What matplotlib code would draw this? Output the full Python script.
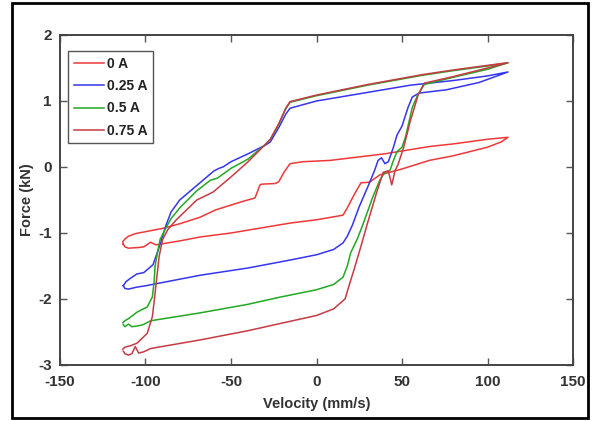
import numpy as np
import matplotlib
matplotlib.use('Agg')
import matplotlib.pyplot as plt
from matplotlib.patches import Rectangle

# hysteresis loops: lower branch left->right, upper branch right->left
vel_0a = [-113, -112, -110, -104, -101, -97, -94, -80, -68, -50, -15.5, 0, 15.5, 18, 22, 26, 31, 37, 50, 66, 80,
          100, 108, 112,
          100, 80, 66, 40, 8, -8, -15.5, -19, -22, -24, -32, -33, -36, -43, -59, -68, -80, -90, -100, -106, -110,
          -112, -113.3, -113]
force_0a = [-1.17, -1.21, -1.23, -1.22, -1.21, -1.14, -1.18, -1.12, -1.06, -1.0, -0.85, -0.80, -0.73, -0.62, -0.42,
            -0.24, -0.23, -0.12, -0.03, 0.1, 0.17, 0.3, 0.38, 0.45,
            0.42, 0.35, 0.31, 0.2, 0.1, 0.08, 0.05, -0.08, -0.22, -0.25, -0.26, -0.27, -0.47, -0.52, -0.65, -0.76,
            -0.86, -0.93, -0.98, -1.01, -1.05, -1.09, -1.13, -1.17]

vel_025a = [-113, -112, -110, -105, -100, -68, -40, -15.5, 0, 10, 15.5, 18, 21, 25, 30, 34, 36, 38, 40, 42, 45, 47,
            50, 53.5, 56, 60, 76, 95, 112,
            100, 80, 55, 0, -15.5, -18, -22, -27, -30, -40, -50, -54.7, -57, -60, -70, -80, -85, -88, -90, -92.6,
            -95.6, -101, -105, -109, -111.5, -113]
force_025a = [-1.8, -1.84, -1.85, -1.82, -1.8, -1.64, -1.53, -1.41, -1.33, -1.25, -1.15, -1.05, -0.88, -0.6, -0.3,
              -0.05, 0.1, 0.14, 0.05, 0.08, 0.3, 0.48, 0.62, 0.9, 1.06, 1.12, 1.17, 1.28, 1.44,
              1.38, 1.31, 1.24, 1.0, 0.89, 0.8, 0.6, 0.38, 0.33, 0.2, 0.08, 0.0, -0.02, -0.06, -0.28, -0.5, -0.68,
              -0.88, -1.05, -1.26, -1.48, -1.6, -1.62, -1.69, -1.74, -1.8]

vel_05a = [-113, -112, -110, -108, -105, -101.5, -97, -68, -40, -21, 0, 10, 15.5, 18, 20, 24, 27, 33, 37, 40, 43, 45,
           47, 50, 52, 56, 59, 63, 80, 100, 112,
           100, 80, 62, 30, 0, -15.5, -18, -22, -27, -30, -40, -50, -58, -62, -70, -80, -85, -88, -91.5, -93, -94.4,
           -95, -96, -99, -105, -109, -112, -113.2]
force_05a = [-2.39, -2.42, -2.38, -2.42, -2.41, -2.39, -2.33, -2.21, -2.08, -1.97, -1.86, -1.78, -1.67, -1.5, -1.3,
             -1.08, -0.88, -0.45, -0.2, -0.08, -0.05, 0.1, 0.23, 0.3, 0.45, 0.9, 1.08, 1.25, 1.36, 1.48, 1.58,
             1.53, 1.46, 1.39, 1.24, 1.08, 0.98, 0.88, 0.65, 0.42, 0.34, 0.12, -0.02, -0.17, -0.2, -0.36, -0.62,
             -0.78, -0.92, -1.1, -1.3, -1.5, -1.75, -1.97, -2.12, -2.2, -2.28, -2.33, -2.36]

vel_075a = [-113, -112, -110, -108, -106, -104, -101, -97, -68, -40, -21, 0, 10, 16.7, 19, 22, 26, 29.5, 35, 39, 42,
            44, 46, 47.6, 51, 54.7, 59.4, 63, 80, 100, 112,
            100, 80, 62, 30, 0, -15.5, -18, -22, -27, -30, -40, -50, -60.5, -70, -76, -82, -87, -90, -92, -93.5,
            -95, -96, -99, -105, -109, -112, -113.3]
force_075a = [-2.79, -2.83, -2.85, -2.83, -2.72, -2.82, -2.8, -2.75, -2.62, -2.48, -2.37, -2.25, -2.15, -2.0, -1.8,
              -1.55, -1.2, -0.88, -0.4, -0.08, -0.06, -0.27, -0.05, 0.03, 0.3, 0.68, 1.09, 1.27, 1.37, 1.5, 1.58,
              1.54, 1.47, 1.4, 1.25, 1.09, 0.99, 0.89, 0.66, 0.42, 0.34, 0.08, -0.15, -0.38, -0.5, -0.65, -0.8,
              -0.95, -1.1, -1.35, -1.7, -2.05, -2.27, -2.52, -2.67, -2.71, -2.73, -2.76]

labels = ['0 A', '0.25 A', '0.5 A', '0.75 A']
colors = ['#ee3838', '#3535ee', '#22a822', '#c63a44']
x_ticks = [-150, -100, -50, 0, 50, 100, 150]
y_ticks = [-3, -2, -1, 0, 1, 2]


def main():
    plt.rcParams['font.family'] = ['Liberation Sans', 'DejaVu Sans']
    plt.rcParams['font.weight'] = 'bold'
    plt.rcParams['axes.unicode_minus'] = False

    fig = plt.figure(figsize=(5.93, 4.21), dpi=100)
    ax = fig.add_axes([60 / 593, 56 / 421, 513 / 593, 330 / 421])

    # outer frame around the whole picture
    fig.patches.append(Rectangle((12 / 593, 3 / 421), 576 / 593, 415 / 421, transform=fig.transFigure,
                                 fill=False, edgecolor='black', linewidth=2))

    loops = [(vel_0a, force_0a), (vel_025a, force_025a), (vel_05a, force_05a), (vel_075a, force_075a)]
    for (v, f), lab, c in zip(loops, labels, colors):
        ax.plot(v, f, color=c, linewidth=1.1, label=lab, solid_joinstyle='round')

    ax.set_xlim(-150, 150)
    ax.set_ylim(-3, 2)
    ax.set_xticks(x_ticks)
    ax.set_yticks(y_ticks)
    ax.tick_params(direction='in', top=True, right=True, length=5, width=1, colors='#555555',
                   labelcolor='#333333', labelsize=11)
    ax.tick_params(axis='x', pad=7)
    ax.tick_params(axis='y', pad=6)
    for sp in ax.spines.values():
        sp.set_color('#444444')
        sp.set_linewidth(1.4)

    ax.set_xlabel('Velocity (mm/s)', fontsize=10.5, fontweight='bold', color='#333333', labelpad=6)
    ax.set_ylabel('Force (kN)', fontsize=10.5, fontweight='bold', color='#333333', labelpad=3)

    leg = ax.legend(loc='upper left', bbox_to_anchor=(0.0156, 0.951), borderaxespad=0, fontsize=10,
                    handlelength=2.2, handletextpad=0.2, labelspacing=0.6, fancybox=False,
                    edgecolor='#555555', framealpha=1)
    leg.get_frame().set_linewidth(1.0)
    for t in leg.get_texts():
        t.set_color('#222222')

    fig.savefig('out.png', dpi=100)


if __name__ == '__main__':
    main()
